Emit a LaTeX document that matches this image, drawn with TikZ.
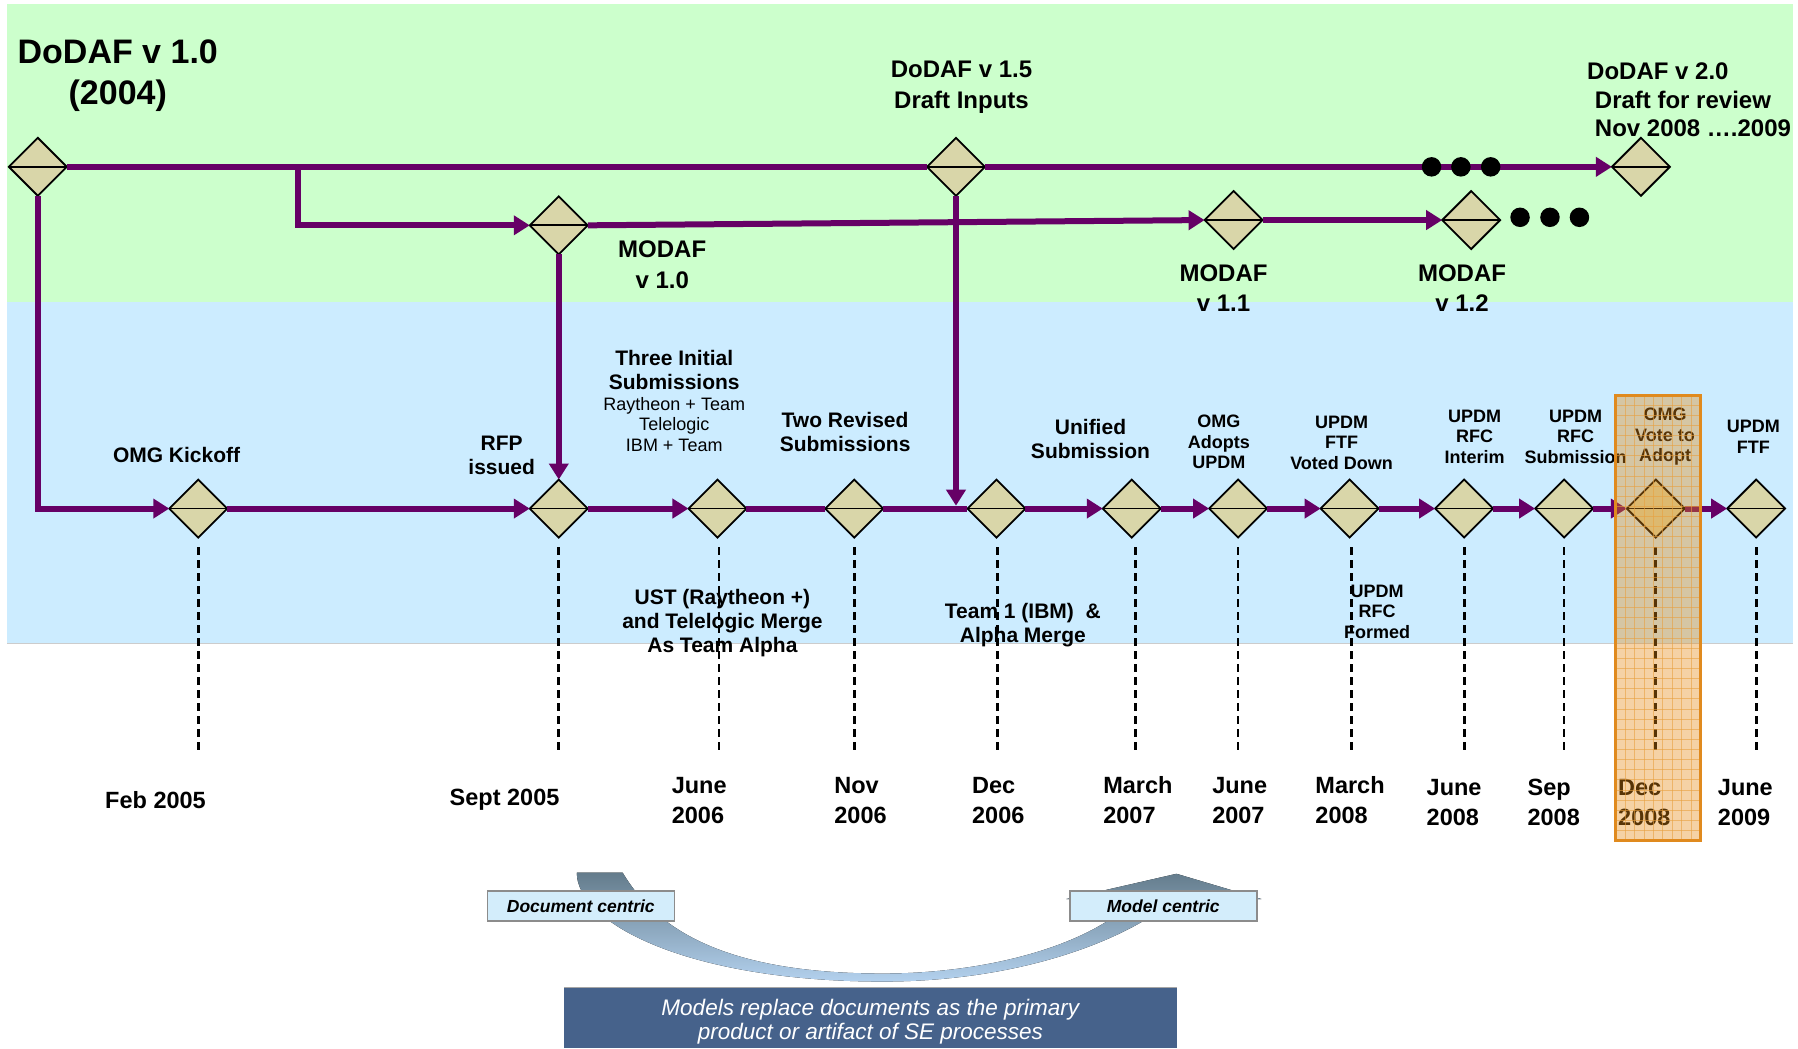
\documentclass[tikz,border=0pt]{standalone}
\usepackage{fontspec}
\setmainfont{Liberation Sans}
\usetikzlibrary{arrows.meta,shapes.geometric}
\definecolor{bggreen}{HTML}{CCFFCC}
\definecolor{bgblue}{HTML}{CCECFF}
\definecolor{purp}{HTML}{660066}
\definecolor{tanf}{HTML}{D9D6A9}
\definecolor{orng}{HTML}{E68A12}
\definecolor{orngb}{HTML}{E08A1E}
\definecolor{orngg}{HTML}{E8A040}
\definecolor{boxblue}{HTML}{D3EDFB}
\definecolor{navyb}{HTML}{46628B}
\definecolor{bandtop}{HTML}{647C8C}
\definecolor{bandbot}{HTML}{B3D1EE}
\begin{document}
\begin{tikzpicture}[x=1.1467pt,y=-1.1467pt,
  ms/.style={diamond, draw=black, line width=1.8pt, fill=tanf, minimum width=58pt, minimum height=58pt,
    inner sep=0pt, outer sep=0pt,
    path picture={\draw[black,line width=1.8pt] (path picture bounding box.west) -- (path picture bounding box.east);}},
  pl/.style={draw=purp, line width=6pt},
  arr/.style={-{Triangle[length=16pt,width=19pt]}},
  dl/.style={draw=black, line width=2.8pt, dash pattern=on 8pt off 5pt},
  blackdot/.style={circle, fill=black, minimum size=19.5pt, inner sep=0pt},
  big/.style={font=\bfseries\fontsize{34}{41.6}\selectfont, align=center, inner sep=0pt},
  ttl/.style={font=\bfseries\fontsize{24}{31}\selectfont, align=center, inner sep=0pt},
  lbl/.style={font=\bfseries\fontsize{21}{24}\selectfont, align=center, inner sep=0pt},
  sml/.style={font=\bfseries\fontsize{18}{20.4}\selectfont, align=center, inner sep=0pt},
  thn/.style={font=\fontsize{18}{20.6}\selectfont, align=center, inner sep=0pt},
  datel/.style={font=\bfseries\fontsize{23.5}{30}\selectfont, align=left, anchor=west, inner sep=0pt},
  centric/.style={draw=black!45, line width=1.5pt, fill=boxblue, minimum width=187pt, minimum height=30pt,
    inner sep=0pt, font=\bfseries\itshape\fontsize{17.5}{20}\selectfont}
]
\useasboundingbox (0,0) rectangle (1568,914);

% backgrounds
\fill[bggreen] (6,3.5) rectangle (1563.6,263);
\fill[bgblue] (6,263) rectangle (1563.6,561.5);
\draw[black!20, line width=1pt] (6,561.5) -- (1563.6,561.5);

% bottom transition graphic
\fill[top color=bandtop, bottom color=bandbot]
  (503,761) .. controls (503,805) and (600,856) .. (770,856)
  .. controls (880,856) and (975,825) .. (1025,784)
  -- (1100,784) -- (1026,762) -- (930,784) -- (990,784)
  .. controls (950,825) and (860,849) .. (770,849)
  .. controls (640,849) and (575,815) .. (543,761) -- cycle;
\node[centric] (doc) at (506.5,790) {Document centric};
\node[centric] (mod) at (1014.5,790) {Model centric};
\fill[navyb] (492,861) rectangle (1026,914);
\draw[black!35, line width=1.5pt] (492,861) -- (1026,861);
\node[font=\itshape\fontsize{22.5}{24}\selectfont, text=white, align=center, inner sep=0pt] (msg) at (759,891)
  {Models replace documents as the primary\\product or artifact of SE processes};

% milestones
\node[ms] (d10) at (33,145.5) {};
\node[ms] (d15) at (833.7,145.5) {};
\node[ms] (d20) at (1431,145.5) {};
\node[ms] (m10) at (487.3,196.5) {};
\node[ms] (m11) at (1075.8,191.9) {};
\node[ms] (m12) at (1283,191.9) {};
\node[ms] (t1) at (172.9,443.5) {};
\node[ms] (t2) at (487.3,443.5) {};
\node[ms] (t3) at (625.7,443.5) {};
\node[ms] (t4) at (745,443.5) {};
\node[ms] (t5) at (869,443.5) {};
\node[ms] (t6) at (987,443.5) {};
\node[ms] (t7) at (1079.7,443.5) {};
\node[ms] (t8) at (1177,443.5) {};
\node[ms] (t9) at (1276.8,443.5) {};
\node[ms] (t10) at (1364,443.5) {};
\node[ms] (t11) at (1444,443.5) {};
\node[ms] (t12) at (1531.5,443.5) {};

\coordinate (br) at (260,145.5);
\coordinate (j15) at (833.7,441);

% connectors
\draw[pl] (d10.east) -- (d15.west);
\draw[pl,arr] (d15.east) -- (d20.west);
\draw[pl,arr] (br) |- (m10.west);
\draw[pl,arr] (m10.east) -- (m11.west);
\draw[pl,arr] (m11.east) -- (m12.west);
\draw[pl,arr] (d10.south) |- (t1.west);
\draw[pl,arr] (m10.south) -- (t2.north);
\draw[pl,arr] (d15.south) -- (j15);
\draw[pl,arr] (t1.east) -- (t2.west);
\draw[pl,arr] (t2.east) -- (t3.west);
\draw[pl] (t3.east) -- (t4.west);
\draw[pl] (t4.east) -- (t5.west);
\draw[pl,arr] (t5.east) -- (t6.west);
\draw[pl,arr] (t6.east) -- (t7.west);
\draw[pl,arr] (t7.east) -- (t8.west);
\draw[pl,arr] (t8.east) -- (t9.west);
\draw[pl,arr] (t9.east) -- (t10.west);
\draw[pl,arr] (t10.east) -- (t11.west);
\draw[pl,arr] (t11.east) -- (t12.west);

% dots
\node[blackdot] (a1) at (1248.4,145.5) {};
\node[blackdot] (a2) at (1274,145.5) {};
\node[blackdot] (a3) at (1300,145.5) {};
\node[blackdot] (b1) at (1325.6,189.5) {};
\node[blackdot] (b2) at (1351.7,189.5) {};
\node[blackdot] (b3) at (1377.4,189.5) {};

% top labels
\node[big] (l10) at (102.7,66) {DoDAF v 1.0\\(2004)};
\node[ttl] (l15) at (838.5,76.5) {DoDAF v 1.5\\Draft Inputs};
\node[font=\bfseries\fontsize{24}{28.4}\selectfont, align=left, anchor=west, inner sep=0pt] (l20) at (1384,87.3)
  {DoDAF v 2.0\\\hspace*{7.7pt}Draft for review\\\hspace*{7.7pt}Nov 2008 ….2009};
\node[font=\bfseries\fontsize{24}{30.5}\selectfont, align=center, inner sep=0pt] (lm10) at (577.5,231) {MODAF\\v 1.0};
\node[font=\bfseries\fontsize{24}{30.5}\selectfont, align=center, inner sep=0pt] (lm11) at (1067,251.3) {MODAF\\v 1.1};
\node[font=\bfseries\fontsize{24}{30.5}\selectfont, align=center, inner sep=0pt] (lm12) at (1275,251.3) {MODAF\\v 1.2};

% timeline labels
\node[lbl] (k1) at (154,396.8) {OMG Kickoff};
\node[lbl] (k2) at (437.5,397.5) {RFP\\issued};
\node[lbl] (k3) at (588,322.5) {Three Initial\\Submissions};
\node[thn] (k3b) at (588,370) {Raytheon + Team\\Telelogic\\IBM + Team};
\node[lbl] (k4) at (737,376.3) {Two Revised\\Submissions};
\node[lbl] (k6) at (951,383) {Unified\\Submission};
\node[sml] (k7) at (1063,385.5) {OMG\\Adopts\\UPDM};
\node[sml] (k8) at (1170,386) {UPDM\\FTF\\Voted Down};
\node[sml] (k9) at (1286,381) {UPDM\\RFC\\Interim};
\node[sml] (k10) at (1374,381) {UPDM\\RFC\\Submission};
\node[sml] (k11) at (1452,381) {OMG\\Vote to\\Adopt};
\node[sml] (k12) at (1529,381) {UPDM\\FTF};
\node[lbl] (u3) at (630,543) {UST (Raytheon +)\\and Telelogic Merge\\As Team Alpha};
\node[lbl] (u5) at (892,545) {Team 1 (IBM)\ \ \&\\Alpha Merge};
\node[sml] (u8) at (1201,533.4) {UPDM\\RFC\\Formed};

% dashed drop lines
\draw[dl] ([yshift=-9.7pt]t1.south) -- ++(0,177.5);
\draw[dl] ([yshift=-9.7pt]t2.south) -- ++(0,177.5);
\draw[dl] ([xshift=1.5pt,yshift=-9.7pt]t3.south) -- ++(0,177.5);
\draw[dl] ([yshift=-9.7pt]t4.south) -- ++(0,177.5);
\draw[dl] ([xshift=1pt,yshift=-9.7pt]t5.south) -- ++(0,180);
\draw[dl] ([xshift=3.5pt,yshift=-9.7pt]t6.south) -- ++(0,177.5);
\draw[dl] ([yshift=-9.7pt]t7.south) -- ++(0,177.5);
\draw[dl] ([xshift=1.7pt,yshift=-9.7pt]t8.south) -- ++(0,177.5);
\draw[dl] ([yshift=-9.7pt]t9.south) -- ++(0,177.5);
\draw[dl] ([yshift=-9.7pt]t10.south) -- ++(0,177.5);
\draw[dl] ([yshift=-9.7pt]t11.south) -- ++(0,177.5);
\draw[dl] ([yshift=-9.7pt]t12.south) -- ++(0,177.5);

% dates
\node[datel] (y1) at (91.6,697.6) {Feb 2005};
\node[datel] (y2) at (392,697.6) {Sept 2005};
\node[datel] (y3) at (585.7,698) {June\\2006};
\node[datel] (y4) at (727.5,698) {Nov\\2006};
\node[datel] (y5) at (847.6,698) {Dec\\2006};
\node[datel] (y6) at (962,698) {March\\2007};
\node[datel] (y7) at (1057,698) {June\\2007};
\node[datel] (y8) at (1147,698) {March\\2008};
\node[datel] (y9) at (1244,699.5) {June\\2008};
\node[datel] (y10) at (1332,699.5) {Sep\\2008};
\node[datel] (y11) at (1411,699.5) {Dec\\2008};
\node[datel] (y12) at (1498,699.5) {June\\2009};

% highlight overlay
\fill[orng, fill opacity=0.38] (1409,344.5) rectangle (1483,733);
\foreach \i in {1,...,8} {
  \draw[orngg, line width=0.7pt, opacity=0.6] (1409+\i*8.22,344.5) -- (1409+\i*8.22,733);
}
\foreach \j in {1,...,43} {
  \draw[orngg, line width=0.7pt, opacity=0.6] (1409,344.5+\j*8.83) -- (1483,344.5+\j*8.83);
}
\draw[orngb, line width=3pt] (1409,344.5) rectangle (1483,733);
\end{tikzpicture}
\end{document}
